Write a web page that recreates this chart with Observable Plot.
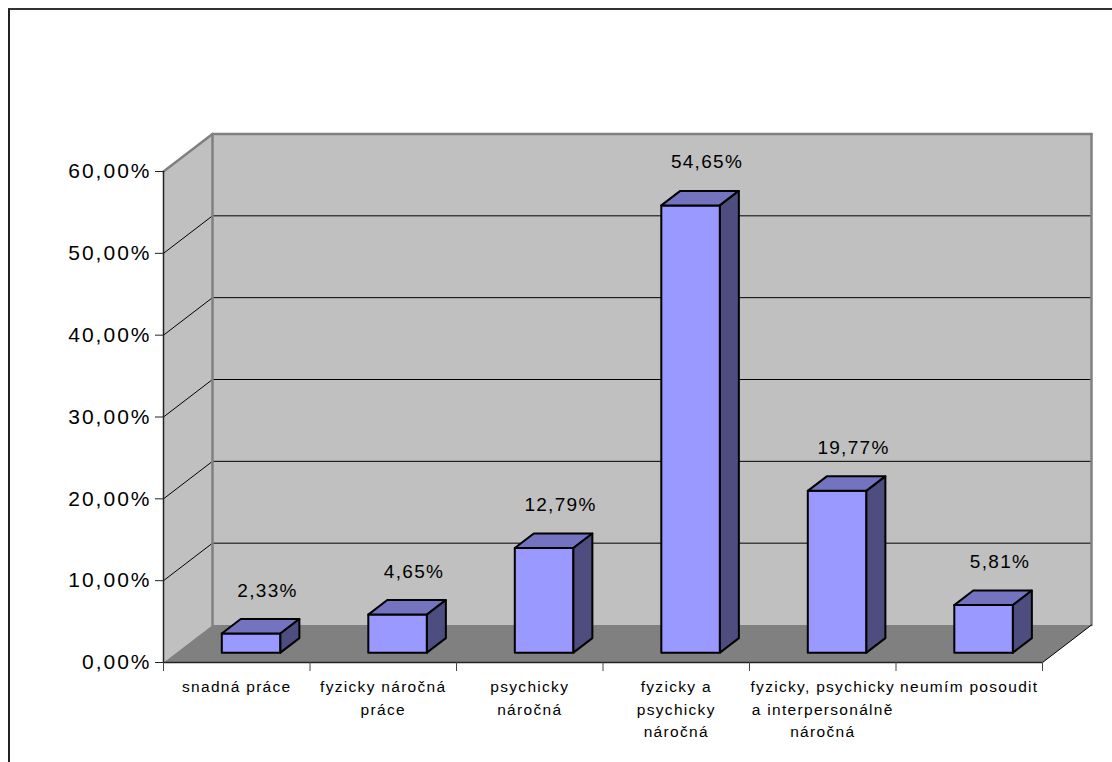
<!DOCTYPE html>
<html>
<head>
<meta charset="utf-8">
<script src="https://cdn.jsdelivr.net/npm/d3@7"></script>
<script src="https://cdn.jsdelivr.net/npm/@observablehq/plot@0.6"></script>
<style>
  html, body { margin: 0; padding: 0; background: #fff; overflow: hidden; }
  #chart { position: absolute; left: 0; top: 0; }
  #frame { position: absolute; left: 8px; top: 8px; width: 1200px; height: 900px;
           border-left: 2px solid #222; border-top: 2px solid #333; pointer-events: none; }
</style>
</head>
<body>
<div id="chart"></div>
<div id="frame"></div>
<script>
// ---- data ----
const categories = [
  "snadná práce",
  "fyzicky náročná\npráce",
  "psychicky\nnáročná",
  "fyzicky a\npsychicky\nnáročná",
  "fyzicky, psychicky\na interpersonálně\nnáročná",
  "neumím posoudit"
];
const values = [2.33, 4.65, 12.79, 54.65, 19.77, 5.81];
const yTicks = [0, 10, 20, 30, 40, 50, 60];

// ---- layout ----
const W = 1112, H = 762, ML = 163, MR = 70, MT = 171, MB = 100;
const N = categories.length, YMAX = 60;
const kx = (W - ML - MR) / N, ky = (H - MT - MB) / YMAX;
const DEPTH_X = 49, DEPTH_Y = 37.5; // px offset of the back plane
const P = (x, y, z) => ({x: x + z * DEPTH_X / kx, y: y + z * DEPTH_Y / ky});
const poly = (id, pts) => pts.concat([pts[0]]).map(p => ({id, ...P(...p)}));
const seg = (id, a, b) => [{id, ...P(...a)}, {id, ...P(...b)}];

const fmt = d => d.toFixed(2).replace(".", ",") + "%";
const bars = categories.map((c, i) => ({category: c, value: values[i], i}));

// walls
const backWall = poly("back", [[0,0,1],[N,0,1],[N,YMAX,1],[0,YMAX,1]]);
const leftWall = poly("left", [[0,0,0],[0,0,1],[0,YMAX,1],[0,YMAX,0]]);
const floor = poly("floor", [[0,0,0],[N,0,0],[N,0,1],[0,0,1]]);
const wallEdges = [
  ...seg("e1", [0,0,1], [0,YMAX,1]),
  ...seg("e2", [0,YMAX,1], [N,YMAX,1]),
  ...seg("e3", [N,YMAX,1], [N,0,1]),
  ...seg("e4", [0,YMAX,0], [0,YMAX,1])
];
const grid = yTicks.filter(v => v > 0 && v < YMAX).flatMap(v => [
  ...seg("b" + v, [0,v,1], [N,v,1]),
  ...seg("l" + v, [0,v,0], [0,v,1])
]);
const floorEdge = seg("fr", [N,0,0], [N,0,1]);
const frontAxes = [...seg("ay", [0,0,0], [0,YMAX,0]), ...seg("ax", [0,0,0], [N,0,0])];

// bars
const BC = 0.51, BW = 0.2, Z0 = 0.263, Z1 = 0.65;
const fronts = [], tops = [], sides = [];
bars.forEach(b => {
  const x0 = b.i + BC - BW, x1 = b.i + BC + BW, v = b.value;
  fronts.push(...poly("f" + b.i, [[x0,0,Z0],[x1,0,Z0],[x1,v,Z0],[x0,v,Z0]]));
  tops.push(...poly("t" + b.i, [[x0,v,Z0],[x1,v,Z0],[x1,v,Z1],[x0,v,Z1]]));
  sides.push(...poly("s" + b.i, [[x1,0,Z0],[x1,0,Z1],[x1,v,Z1],[x1,v,Z0]]));
});

const barStyle = {x: "x", y: "y", z: "id", stroke: "#000", strokeWidth: 2, strokeLinejoin: "round"};

const chart = Plot.plot({
  width: W, height: H,
  marginLeft: ML, marginRight: MR, marginTop: MT, marginBottom: MB,
  style: {fontFamily: "'Liberation Sans', Arial, sans-serif", background: "transparent", color: "#000"},
  x: {type: "linear", domain: [0, N]},
  y: {type: "linear", domain: [0, YMAX]},
  marks: [
    Plot.line(backWall, {x: "x", y: "y", z: "id", fill: "#C0C0C0", stroke: "none"}),
    Plot.line(leftWall, {x: "x", y: "y", z: "id", fill: "#C0C0C0", stroke: "none"}),
    Plot.line(floor, {x: "x", y: "y", z: "id", fill: "#808080", stroke: "none"}),
    Plot.line(grid, {x: "x", y: "y", z: "id", stroke: "#000", strokeWidth: 1}),
    Plot.line(wallEdges, {x: "x", y: "y", z: "id", stroke: "#808080", strokeWidth: 2.5}),
    Plot.line(floorEdge, {x: "x", y: "y", z: "id", stroke: "#000", strokeWidth: 1}),
    Plot.line(frontAxes, {x: "x", y: "y", z: "id", stroke: "#222", strokeWidth: 1.5}),
    Plot.line(fronts, {...barStyle, fill: "#9999FF"}),
    Plot.line(tops, {...barStyle, fill: "#7373BF"}),
    Plot.line(sides, {...barStyle, fill: "#4D4D80"}),
    Plot.text(bars, {x: d => d.i + BC + 0.2, y: "value", dy: -53, text: d => fmt(d.value),
      fontSize: 19, fill: "#000"}),
    Plot.axisY({ticks: yTicks, tickSize: 8, tickPadding: 4, tickFormat: fmt, fontSize: 21,
      label: null, stroke: "#222"}),
    Plot.axisX({ticks: d3.range(N + 1), tickSize: 9, tickFormat: () => "", label: null, stroke: "#444"}),
    Plot.text(bars, {x: d => d.i + 0.5, y: 0, dy: 14, text: "category", lineAnchor: "top",
      lineHeight: 1.45, fontSize: 15.5, fill: "#000"})
  ]
});
document.getElementById("chart").appendChild(chart);

// widen letter spacing to match the horizontally stretched Arial of the original
const spacingBySize = {"21px": 2, "19px": 1.3, "15.5px": 1.3};
chart.querySelectorAll("text, tspan").forEach(t => {
  const px = spacingBySize[getComputedStyle(t).fontSize];
  if (px != null) {
    t.setAttribute("letter-spacing", px);
    t.style.letterSpacing = px + "px";
  }
});
</script>
</body>
</html>
